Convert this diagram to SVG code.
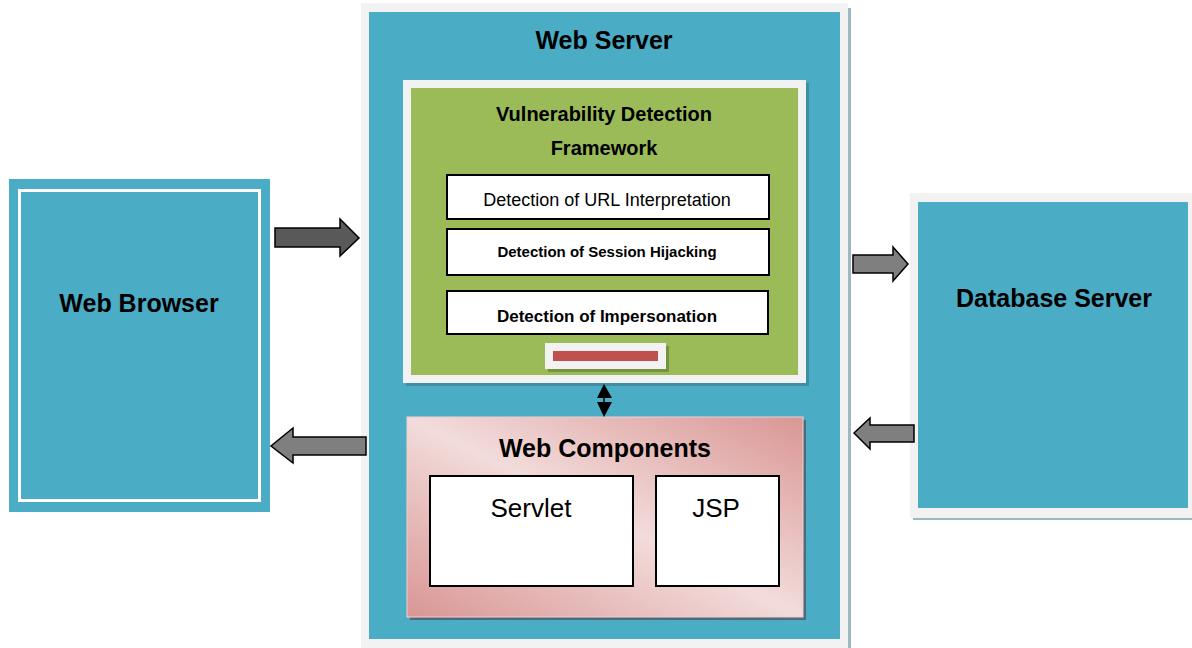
<svg xmlns="http://www.w3.org/2000/svg" width="1192" height="648" viewBox="0 0 1192 648">
<defs>
<style>
.t{font-family:"Liberation Sans",Arial,sans-serif;fill:#000;text-anchor:middle}
.b{font-weight:bold}
.teal{fill:#4bacc6}
.frame{fill:#f2f2f2}
.box{fill:#fff;stroke:#000;stroke-width:2}
.arr{stroke:#000;stroke-width:1.5;stroke-linejoin:miter}
</style>
<linearGradient id="pk" x1="0" y1="1" x2="1" y2="0">
<stop offset="0" stop-color="#d99694"/>
<stop offset="0.5" stop-color="#f2dcdb"/>
<stop offset="1" stop-color="#d99694"/>
</linearGradient>
</defs>
<rect width="1192" height="648" fill="#fff"/>

<g id="web-server">
<rect x="848" y="8" width="3" height="640" fill="#9bb8c4"/>
<rect class="frame" x="361" y="3" width="487" height="645"/>
<rect class="teal" x="369" y="12" width="471" height="627"/>
<text class="t b" x="604" y="49" font-size="25">Web Server</text>
</g>

<g id="vulnerability-framework">
<rect x="406" y="83" width="403" height="303" fill="#3f8ea3"/>
<rect class="frame" x="403" y="80" width="403" height="303"/>
<rect x="411" y="88" width="387" height="287" fill="#9bbb59"/>
<text class="t b" x="604" y="121" font-size="20">Vulnerability Detection</text>
<text class="t b" x="604" y="155" font-size="20">Framework</text>
</g>

<g id="url-detection">
<rect class="box" x="447" y="175" width="322" height="44"/>
<text class="t" x="607" y="206" font-size="18">Detection of URL Interpretation</text>
</g>
<g id="session-detection">
<rect class="box" x="447" y="229" width="322" height="46"/>
<text class="t b" x="607" y="257" font-size="15">Detection of Session Hijacking</text>
</g>
<g id="impersonation-detection">
<rect class="box" x="447" y="291" width="321" height="43"/>
<text class="t b" x="607" y="322" font-size="17">Detection of Impersonation</text>
</g>
<g id="red-bar">
<rect x="548" y="346" width="121" height="26" fill="#76923c"/>
<rect class="frame" x="545" y="343" width="121" height="26"/>
<rect x="553" y="351" width="105" height="10" fill="#c0504d"/>
</g>

<g id="web-components">
<rect x="410" y="420" width="396" height="200" fill="#4f6b7a"/>
<rect x="407" y="417" width="396" height="200" fill="url(#pk)" stroke="#f0d0cf" stroke-width="1"/>
<text class="t b" x="605" y="457" font-size="25">Web Components</text>
</g>
<g id="servlet">
<rect class="box" x="430" y="476" width="203" height="110"/>
<text class="t" x="531" y="517" font-size="26">Servlet</text>
</g>
<g id="jsp">
<rect class="box" x="656" y="476" width="123" height="110"/>
<text class="t" x="716" y="517" font-size="26">JSP</text>
</g>

<g id="web-browser">
<rect class="teal" x="9" y="179" width="261" height="333"/>
<rect x="19.5" y="190.5" width="240" height="310" fill="none" stroke="#fff" stroke-width="3"/>
<text class="t b" x="139" y="312" font-size="25">Web Browser</text>
</g>

<g id="database-server">
<rect x="913" y="196" width="279" height="324" fill="#9bb8c4"/>
<rect class="frame" x="910" y="193" width="282" height="325"/>
<rect class="teal" x="918" y="202" width="270" height="306"/>
<text class="t b" x="1054" y="307" font-size="25">Database Server</text>
</g>

<g id="connectors">
<polygon class="arr" fill="#595959" points="275,228 340,228 340,219 359,238 340,256 340,247 275,247"/>
<polygon class="arr" fill="#7f7f7f" points="366,437 293,437 293,428 271,446 293,463 293,455 366,455"/>
<polygon class="arr" fill="#7f7f7f" points="853,255 893,255 893,247 908,264 893,281 893,273 853,273"/>
<polygon class="arr" fill="#7f7f7f" points="914,425 870,425 870,418 854,433 870,449 870,442 914,442"/>
<line x1="604" y1="390" x2="604" y2="410" stroke="#000" stroke-width="1.5"/>
<polygon points="604,384 612,398 597,398" fill="#000"/>
<polygon points="597,402 612,402 604,417" fill="#000"/>
</g>
</svg>
